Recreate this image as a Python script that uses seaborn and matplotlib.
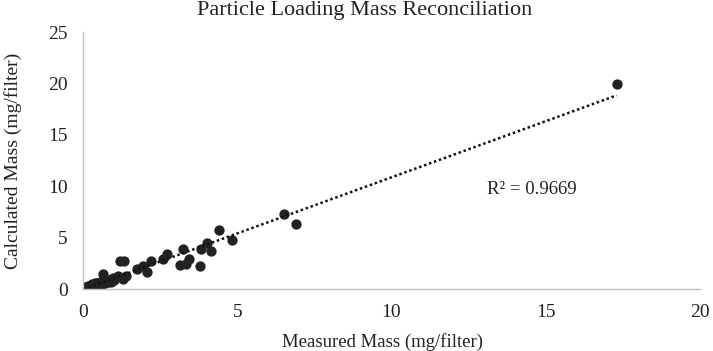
import pandas as pd
import seaborn as sns
import matplotlib.pyplot as plt

# measured vs calculated mass (mg/filter)
measured = [0.02, 0.05, 0.08, 0.10, 0.12, 0.15, 0.18, 0.20, 0.25, 0.28, 0.30, 0.35,
            0.40, 0.42, 0.45, 0.50, 0.55, 0.60, 0.65, 0.70, 0.75, 0.80, 0.85, 0.90,
            0.95, 1.00, 0.66, 0.98, 1.14, 1.31, 1.38, 1.20, 1.33, 1.74, 1.95, 2.07,
            2.21, 2.60, 2.71, 3.15, 3.35, 3.45, 3.23, 3.80, 3.82, 4.02, 4.14, 4.42,
            4.83, 6.50, 6.90, 17.30]
calculated = [0.05, 0.10, 0.15, 0.05, 0.20, 0.30, 0.12, 0.25, 0.40, 0.20, 0.45, 0.35,
              0.55, 0.30, 0.60, 0.50, 0.70, 0.45, 0.80, 0.60, 0.85, 0.70, 0.90, 0.65,
              1.00, 0.85, 1.50, 1.10, 1.30, 0.95, 1.25, 2.70, 2.70, 1.90, 2.25, 1.70,
              2.70, 2.95, 3.40, 2.30, 2.40, 2.95, 3.90, 2.20, 3.85, 4.50, 3.73, 5.75,
              4.80, 7.30, 6.30, 19.90]

df = pd.DataFrame({"measured": measured, "calculated": calculated})

sns.set_style("white")
plt.rcParams["font.family"] = ["Liberation Serif", "DejaVu Serif"]

fig = plt.figure(figsize=(7.13, 3.51), dpi=100)
ax = fig.add_axes([0.1164, 0.1766, 0.8654, 0.7322])

sns.regplot(x="measured", y="calculated", data=df, ax=ax, ci=None,
            scatter_kws={"s": 55, "color": "#222222", "linewidths": 0, "alpha": 1},
            line_kws={"color": "#111111", "linestyle": (0, (1, 1.1)), "linewidth": 1.8})

ax.text(13.1, 9.7, "R² = 0.9669", fontsize=13.5, va="center", ha="left", color="#222222")

ax.set_xlim(0, 20)
ax.set_ylim(0, 25)
ax.set_xticks([0, 5, 10, 15, 20])
ax.set_yticks([0, 5, 10, 15, 20, 25])
ax.tick_params(labelsize=14, length=0, pad=11, colors="#222222")
fig.text(0.512, 1 - 11 / 351, "Particle Loading Mass Reconciliation", fontsize=16,
         ha="center", va="center", color="#222222")
ax.set_xlabel("Measured Mass (mg/filter)", fontsize=13.5, color="#222222")
ax.set_ylabel("Calculated Mass (mg/filter)", fontsize=14, labelpad=19, color="#222222")
ax.xaxis.set_label_coords(0.485, -0.17)

sns.despine(ax=ax)
for side in ["left", "bottom"]:
    ax.spines[side].set_color("#bfbfbf")
    ax.spines[side].set_linewidth(1)

fig.savefig("out.png", dpi=100)
